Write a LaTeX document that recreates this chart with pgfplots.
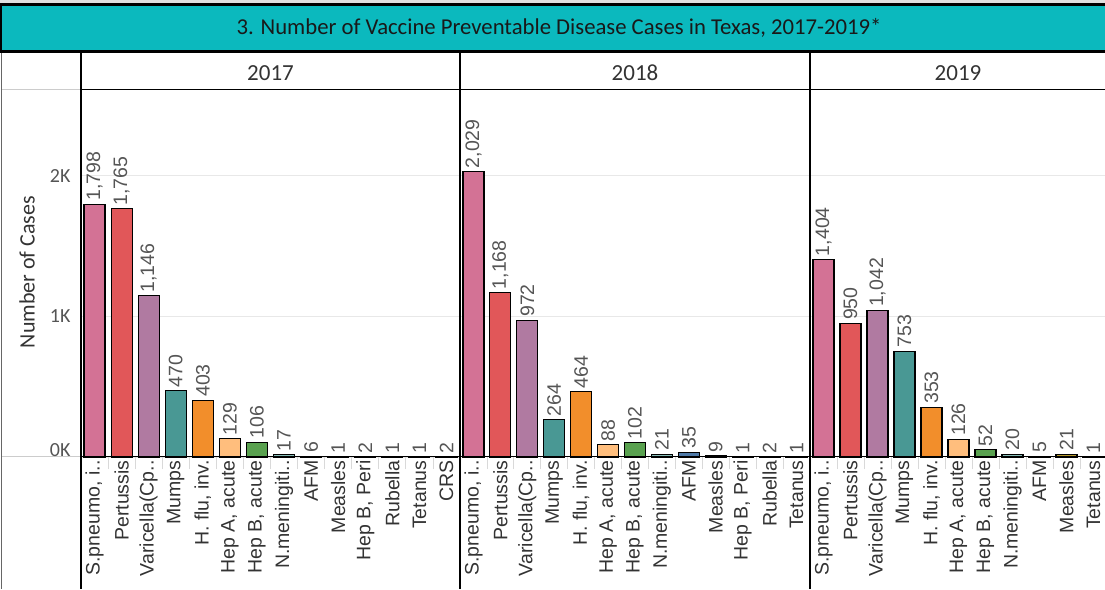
\documentclass[border=0pt]{standalone}
\usepackage{pgfplots}
\pgfplotsset{compat=1.18}
\usepackage{fontspec}
\setmainfont{Carlito}
\newfontfamily\labfont{Liberation Sans}

\definecolor{hdr}{RGB}{11,185,190}
\definecolor{cSp}{HTML}{D37295}
\definecolor{cPe}{HTML}{E15759}
\definecolor{cVa}{HTML}{B07AA1}
\definecolor{cMu}{HTML}{499894}
\definecolor{cHf}{HTML}{F28E2B}
\definecolor{cHa}{HTML}{FFBE7D}
\definecolor{cHb}{HTML}{59A14F}
\definecolor{cNm}{HTML}{86BCB6}
\definecolor{cAf}{HTML}{4E79A7}
\definecolor{cMe}{HTML}{B6992D}
\definecolor{cHp}{HTML}{9D7660}
\definecolor{cRu}{HTML}{F1CE63}
\definecolor{cTe}{HTML}{79706E}
\definecolor{cCr}{HTML}{FF9D9A}
\definecolor{txt}{HTML}{333333}
\definecolor{lbl}{HTML}{555555}

\pgfplotsset{
  panel/.style={
    scale only axis, height=367pt, anchor=south west,
    ymin=0, ymax=2610, clip=false,
    axis line style={draw=none},
    ybar, bar width=21pt,
    ymajorgrids, ytick={1000,2000}, yticklabels={},
    major grid style={black!9, line width=0.9pt},
    major tick length=0pt, minor tick length=12pt, tick align=outside,
    xtick pos=bottom, ytick pos=left,
    minor tick style={black!15, line width=0.8pt},
    x tick label style={rotate=90, anchor=east, text=txt,
      font=\labfont\fontsize{19.5}{20}\selectfont},
    nodes near coords={\pgfmathprintnumber[assume math mode=true]{\pgfplotspointmeta}},
    nodes near coords style={rotate=90, anchor=west, text=lbl, inner sep=3pt,
      font=\labfont\fontsize{19.5}{20}\selectfont},
  },
  b/.style={fill=#1, draw=black, line width=1.1pt, bar shift=0pt},
}

\begin{document}
\begin{tikzpicture}[x=1pt,y=1pt]
\useasboundingbox (0,0) rectangle (1105,-589);
% title bar
\fill[black!12] (0,0) rectangle (1105,-3);
\fill[hdr] (0,-4) rectangle (1105,-51);
\draw[line width=2.8pt] (0,-4.4) -- (1105,-4.4);
\draw[line width=3.5pt] (0,-51.5) -- (1105,-51.5);
\draw[line width=2.5pt] (1.2,-3) -- (1.2,-53);
\node[text=black!90, font=\fontsize{22.7}{23}\selectfont] at (559,-28)
  {3. Number of Vaccine Preventable Disease Cases in Texas, 2017-2019*};
% year headers
\node[text=txt, font=\fontsize{23}{23}\selectfont] at (270.5,-73) {2017};
\node[text=txt, font=\fontsize{23}{23}\selectfont] at (635,-73) {2018};
\node[text=txt, font=\fontsize{23}{23}\selectfont] at (958,-73) {2019};
\draw[black!20, line width=1pt] (1,-89.5) -- (81,-89.5);
\draw[black!20, line width=1pt] (1,-456.5) -- (81,-456.5);

% 2017
\begin{axis}[panel, at={(81pt,-457pt)}, width=379pt, xmin=-0.5, xmax=13.5,
  ytick={0,1000,2000}, yticklabels={\raisebox{13pt}{0K},1K,2K},
  y tick label style={text=lbl, font=\fontsize{20}{20}\selectfont, xshift=-7pt},
  xtick={0,...,13}, minor xtick={0.5,1.5,...,12.5},
  xticklabels={{S.pneumo, i..},Pertussis,{Varicella(Cp..},Mumps,{H. flu, inv.},
    {Hep A, acute},{Hep B, acute},{N.meningiti..},AFM,Measles,{Hep B, Peri},
    Rubella,Tetanus,CRS}]
\addplot[b=cSp] coordinates {(0,1798)};
\addplot[b=cPe] coordinates {(1,1765)};
\addplot[b=cVa] coordinates {(2,1146)};
\addplot[b=cMu] coordinates {(3,470)};
\addplot[b=cHf] coordinates {(4,403)};
\addplot[b=cHa] coordinates {(5,129)};
\addplot[b=cHb] coordinates {(6,106)};
\addplot[b=cNm] coordinates {(7,17)};
\addplot[b=cAf] coordinates {(8,6)};
\addplot[b=cMe] coordinates {(9,1)};
\addplot[b=cHp] coordinates {(10,2)};
\addplot[b=cRu] coordinates {(11,1)};
\addplot[b=cTe] coordinates {(12,1)};
\addplot[b=cCr] coordinates {(13,2)};
\end{axis}

% 2018
\begin{axis}[panel, at={(460pt,-457pt)}, width=350pt, xmin=-0.5, xmax=12.5,
  xtick={0,...,12}, minor xtick={0.5,1.5,...,11.5},
  xticklabels={{S.pneumo, i..},Pertussis,{Varicella(Cp..},Mumps,{H. flu, inv.},
    {Hep A, acute},{Hep B, acute},{N.meningiti..},AFM,Measles,{Hep B, Peri},
    Rubella,Tetanus}]
\addplot[b=cSp] coordinates {(0,2029)};
\addplot[b=cPe] coordinates {(1,1168)};
\addplot[b=cVa] coordinates {(2,972)};
\addplot[b=cMu] coordinates {(3,264)};
\addplot[b=cHf] coordinates {(4,464)};
\addplot[b=cHa] coordinates {(5,88)};
\addplot[b=cHb] coordinates {(6,102)};
\addplot[b=cNm] coordinates {(7,21)};
\addplot[b=cAf] coordinates {(8,35)};
\addplot[b=cMe] coordinates {(9,9)};
\addplot[b=cHp] coordinates {(10,1)};
\addplot[b=cRu] coordinates {(11,2)};
\addplot[b=cTe] coordinates {(12,1)};
\end{axis}

% 2019
\begin{axis}[panel, at={(810pt,-457pt)}, width=297pt, xmin=-0.5, xmax=10.5,
  xtick={0,...,10}, minor xtick={0.5,1.5,...,9.5},
  xticklabels={{S.pneumo, i..},Pertussis,{Varicella(Cp..},Mumps,{H. flu, inv.},
    {Hep A, acute},{Hep B, acute},{N.meningiti..},AFM,Measles,Tetanus}]
\addplot[b=cSp] coordinates {(0,1404)};
\addplot[b=cPe] coordinates {(1,950)};
\addplot[b=cVa] coordinates {(2,1042)};
\addplot[b=cMu] coordinates {(3,753)};
\addplot[b=cHf] coordinates {(4,353)};
\addplot[b=cHa] coordinates {(5,126)};
\addplot[b=cHb] coordinates {(6,52)};
\addplot[b=cNm] coordinates {(7,20)};
\addplot[b=cAf] coordinates {(8,5)};
\addplot[b=cMe] coordinates {(9,21)};
\addplot[b=cTe] coordinates {(10,1)};
\end{axis}

% frame lines
\draw[black, line width=1.1pt] (81,-89.5) -- (1105,-89.5);
\draw[black, line width=1.1pt] (81,-456.5) -- (1105,-456.5);
\foreach \xx in {81,460,810} \draw[black, line width=1.1pt] (\xx,-53) -- (\xx,-589);
\draw[black!60, line width=1pt] (1,-53) -- (1,-589);
\node[rotate=90, text=txt, font=\fontsize{22}{22}\selectfont] at (27,-272) {Number of Cases};
\end{tikzpicture}
\end{document}
